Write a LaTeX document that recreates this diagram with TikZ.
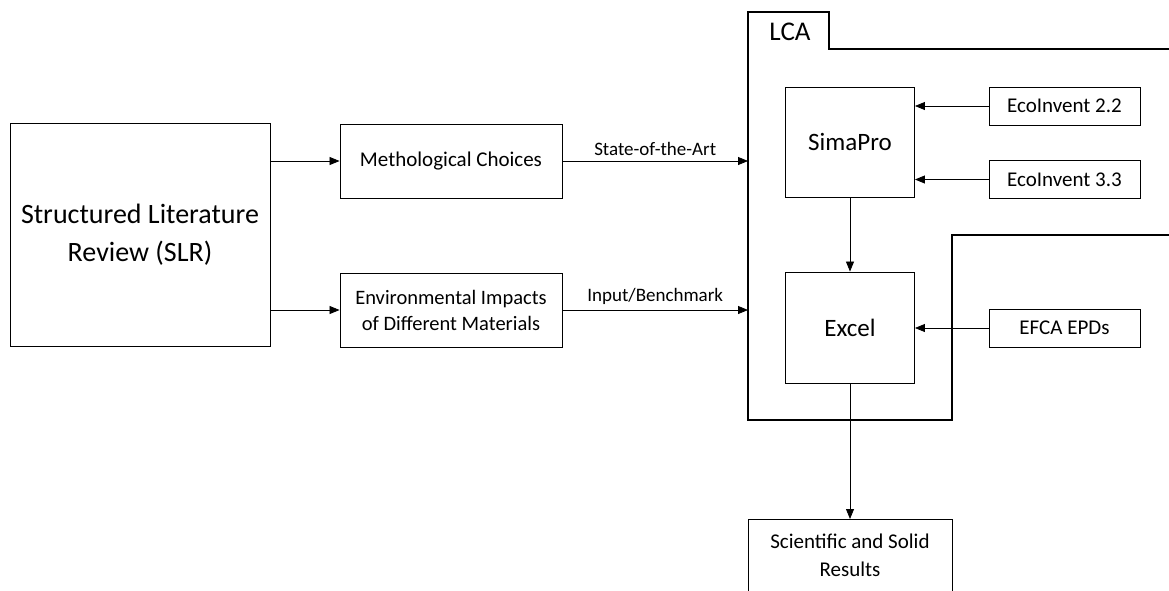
\documentclass[tikz,border=0pt]{standalone}
\usepackage{fontspec}
\setmainfont{Carlito}
\usetikzlibrary{arrows.meta, positioning, calc}

\begin{document}
\begin{tikzpicture}[x=1pt, y=-1pt,
	box/.style={draw, line width=0.9pt, align=center, inner sep=0pt, font=\fontsize{21}{27}\selectfont},
	bigbox/.style={box, font=\fontsize{25}{30}\selectfont},
	srcbox/.style={box, minimum width=151, minimum height=38},
	flow/.style={-{Triangle[length=10pt, width=8pt]}, line width=0.8pt},
	edgelabel/.style={font=\fontsize{19}{22}\selectfont, inner sep=5pt}]
			% --- Canvas ---
			\useasboundingbox (0,0) rectangle (1169,590);
			\clip (0,0) rectangle (1169,590);
			
			% --- Define Coordinates ---
			% LCA outline
			\coordinate (LcaTL) at (748,12);
			\coordinate (TabR) at (829,12);
			\coordinate (TabB) at (829,49);
			\coordinate (TopEnd) at (1175,49);
			\coordinate (LcaBL) at (748,420);
			\coordinate (LcaBR) at (952,420);
			\coordinate (StepT) at (952,235);
			\coordinate (StepEnd) at (1175,235);
			
			% --- Draw Boxes ---
			\node[box, minimum width=260, minimum height=223, font=\fontsize{28}{38}\selectfont] (slr) at (140,234.5) {Structured Literature\\Review (SLR)};
			\node[box, minimum width=222, minimum height=74] (meth) at (451,161) {Methological Choices};
			\node[box, minimum width=222, minimum height=74, font=\fontsize{20.5}{26}\selectfont] (env) at (451,310) {Environmental Impacts\\of Different Materials};
			
			\node[bigbox, minimum width=129, minimum height=110] (simapro) at (850,142) {SimaPro};
			\node[bigbox, minimum width=129, minimum height=111] (excel) at (850,327.5) {Excel};
			
			\node[srcbox] (eco22) at (1064.5,106) {EcoInvent 2.2};
			\node[srcbox] (eco33) at (1064.5,179.5) {EcoInvent 3.3};
			\node[srcbox] (efca) at (1064.5,328) {EFCA EPDs};
			
			% Results box runs past the bottom edge
			\node[box, minimum width=204, minimum height=90, anchor=north] (results) at (850,519) {};
			\node[font=\fontsize{21}{28}\selectfont, align=center] (resultstext) at (850,555) {Scientific and Solid\\Results};
			
			% --- Draw the LCA Outline ---
			\draw[line width=1.5pt] (TopEnd) -- (TabB) -- (TabR) -- (LcaTL) -- (LcaBL) -- (LcaBR) -- (StepT) -- (StepEnd);
			\node[font=\fontsize{27}{30}\selectfont] (lca) at (790,32) {LCA};
			
			% --- Draw the Arrows ---
			\draw[flow] (slr.east |- meth.west) -- (meth.west);
			\draw[flow] (slr.east |- env.west) -- (env.west);
			\draw[flow] (meth.east) -- node[edgelabel, above] {State-of-the-Art} (meth.east -| LcaTL);
			\draw[flow] (env.east) -- node[edgelabel, above] {Input/Benchmark} (env.east -| LcaTL);
			
			\draw[flow] (eco22.west) -- (eco22.west -| simapro.east);
			\draw[flow] (eco33.west) -- (eco33.west -| simapro.east);
			\draw[flow] (efca.west) -- (efca.west -| excel.east);
			
			\draw[flow] (simapro.south) -- (excel.north);
			\draw[flow] (excel.south) -- (results.north);
			
		\end{tikzpicture}
\end{document}
